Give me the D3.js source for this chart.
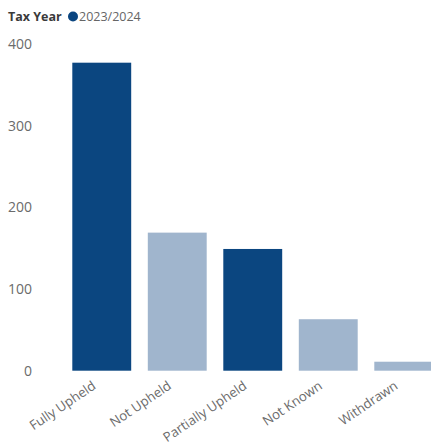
<!DOCTYPE html>
<html><head><meta charset="utf-8">
<script src="https://cdn.jsdelivr.net/npm/d3@7"></script>
<style>
html,body{margin:0;padding:0;background:#fff;overflow:hidden;}
text{font-family:"Open Sans","Segoe UI",sans-serif;}
</style></head>
<body>
<svg id="chart" width="431" height="446"></svg>
<script>
const categories = ["Fully Upheld","Not Upheld","Partially Upheld","Not Known","Withdrawn"];
const values = [377, 169, 149, 63, 11];
const barShades = ["dark", "light", "dark", "light", "light"];
const yTicks = [0, 100, 200, 300, 400];
const legendTitle = "Tax Year";
const seriesName = "2023/2024";
const shadeColor = {dark: "#0b4680", light: "#a0b5cd"};

const svg = d3.select("#chart");
const x = d3.scaleBand().domain(categories).range([64, 441.5]).paddingInner(0.22).paddingOuter(0.11);
const y = d3.scaleLinear().domain([0, 400]).range([370.7, 43.9]);

// legend
svg.append("text").attr("x", 8).attr("y", 21).attr("font-size", 12.5).attr("font-weight", "bold")
  .attr("fill", "#3a3a3a").text(legendTitle);
svg.append("circle").attr("cx", 73).attr("cy", 16.5).attr("r", 5).attr("fill", shadeColor.dark);
svg.append("text").attr("x", 79).attr("y", 21).attr("font-size", 12.5).attr("fill", "#666").text(seriesName);

// y axis
const yAxis = d3.axisLeft(y).tickValues(yTicks).tickSize(0).tickPadding(0);
const gy = svg.append("g").attr("transform", "translate(32,0)").call(yAxis);
gy.select(".domain").remove();
gy.selectAll("text").attr("font-size", 14).attr("fill", "#6b6b6b").attr("font-family", "Open Sans, sans-serif");

// bars
svg.append("g").selectAll("rect").data(categories).join("rect")
  .attr("x", d => x(d))
  .attr("y", (d, i) => y(values[i]))
  .attr("width", x.bandwidth())
  .attr("height", (d, i) => y(0) - y(values[i]))
  .attr("fill", (d, i) => shadeColor[barShades[i]]);

// x axis
const xAxis = d3.axisBottom(x).tickSize(0).tickPadding(0);
const gx = svg.append("g").attr("transform", "translate(0,371)").call(xAxis);
gx.select(".domain").remove();
gx.selectAll("text")
  .attr("font-size", 13.2).attr("fill", "#6b6b6b").attr("font-family", "Open Sans, sans-serif")
  .attr("text-anchor", "end").attr("dy", null).attr("y", 0)
  .attr("transform", "translate(-5,17) rotate(-34)");
</script>
</body></html>
